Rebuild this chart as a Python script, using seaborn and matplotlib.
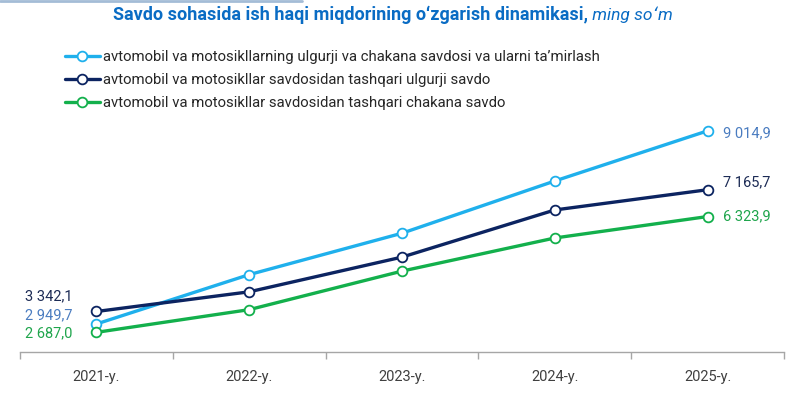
import matplotlib
matplotlib.use("Agg")
import matplotlib.pyplot as plt
import seaborn as sns
import pandas as pd

years = ["2021-y.", "2022-y.", "2023-y.", "2024-y.", "2025-y."]
total_trade = [2949.7, 4500.0, 5800.0, 7440.0, 9014.9]
wholesale = [3342.1, 3960.0, 5050.0, 6530.0, 7165.7]
retail = [2687.0, 3400.0, 4610.0, 5650.0, 6323.9]
series_names = [
    "avtomobil va motosikllarning ulgurji va chakana savdosi va ularni taʼmirlash",
    "avtomobil va motosikllar savdosidan tashqari ulgurji savdo",
    "avtomobil va motosikllar savdosidan tashqari chakana savdo",
]

line_colors = ["#1fb0ec", "#0c2461", "#13b04c"]
label_colors = ["#4a7cc0", "#1c2b55", "#1fa54c"]

sns.set_style("white")
plt.rcParams["font.family"] = ["Roboto", "DejaVu Sans"]

def fmt(v):
    s = f"{v:,.1f}"
    return s.replace(",", " ").replace(".", ",")

df = pd.DataFrame({
    "year": years * 3,
    "value": total_trade + wholesale + retail,
    "series": [series_names[0]] * 5 + [series_names[1]] * 5 + [series_names[2]] * 5,
})

fig = plt.figure(figsize=(8.08, 3.98), dpi=100)
ax = fig.add_axes([20 / 808, 1 - 352 / 398, 764 / 808, 242 / 398])

for name, col in zip(series_names, line_colors):
    sub = df[df["series"] == name]
    sns.lineplot(data=sub, x="year", y="value", ax=ax, color=col, linewidth=2.4,
                 marker="o", markersize=7, markerfacecolor="white",
                 markeredgecolor=col, markeredgewidth=1.3, label=name)

ax.set_xlim(-0.5, 4.5)
ax.set_ylim(2070, 9669)
ax.set_xlabel("")
ax.set_ylabel("")
ax.set_yticks([])
ax.set_xticks(range(5))
ax.set_xticklabels(years, fontsize=10.5, color="#404040")
ax.set_xticks([i - 0.5 for i in range(6)], minor=True)
ax.tick_params(axis="x", which="major", length=0, pad=13)
ax.tick_params(axis="x", which="minor", length=5, color="#a6a6a6", width=1, direction="out")
ax.xaxis.set_ticks_position("bottom")
for s in ["top", "left", "right"]:
    ax.spines[s].set_visible(False)
ax.spines["bottom"].set_color("#a6a6a6")
ax.spines["bottom"].set_linewidth(1)

# end labels
left_offsets = [(-24, 9), (-24, 15), (-24, -1)]
right_offsets = [(15, -2), (15, 7), (15, 0)]
for vals, lc, lo, ro in zip([total_trade, wholesale, retail], label_colors, left_offsets, right_offsets):
    ax.annotate(fmt(vals[0]), xy=(0, vals[0]), xytext=lo, textcoords="offset pixels",
                ha="right", va="center", fontsize=10.5, color=lc)
    ax.annotate(fmt(vals[-1]), xy=(4, vals[-1]), xytext=ro, textcoords="offset pixels",
                ha="left", va="center", fontsize=10.5, color=lc)

ax.legend(loc="upper left", bbox_to_anchor=(65 / 808, 1 - 50 / 398), bbox_transform=fig.transFigure,
          frameon=False, fontsize=10.7, handlelength=2.35, handletextpad=0.2,
          labelspacing=0.6, borderaxespad=0, borderpad=0)

title = fig.text(113 / 808, 1 - 15 / 398, "Savdo sohasida ish haqi miqdorining oʻzgarish dinamikasi,",
                 fontsize=13, fontweight="bold", color="#0a6cc4", ha="left", va="center")
ax.annotate(" ming soʻm", xy=(1, 0.5), xycoords=title, fontsize=12.5, style="italic",
            color="#0a6cc4", ha="left", va="center", annotation_clip=False)

fig.add_artist(plt.Line2D([0, 302 / 808], [1 - 1 / 398, 1 - 1 / 398], color="#a4bcd6", linewidth=2))

fig.savefig("out.png", dpi=100)
